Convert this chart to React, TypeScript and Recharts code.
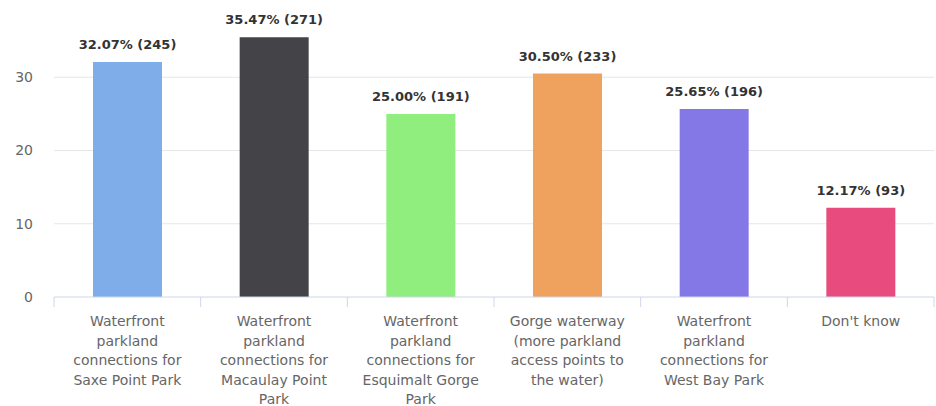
import React from "react";
import { BarChart, Bar, XAxis, YAxis, CartesianGrid, Cell, LabelList } from "recharts";

const categories = [
  "Waterfront\nparkland\nconnections for\nSaxe Point Park",
  "Waterfront\nparkland\nconnections for\nMacaulay Point\nPark",
  "Waterfront\nparkland\nconnections for\nEsquimalt Gorge\nPark",
  "Gorge waterway\n(more parkland\naccess points to\nthe water)",
  "Waterfront\nparkland\nconnections for\nWest Bay Park",
  "Don't know",
];
const percents = [32.07, 35.47, 25.0, 30.5, 25.65, 12.17];
const counts = [245, 271, 191, 233, 196, 93];
const colors = ["#7fadea", "#434348", "#90ee7e", "#efa15e", "#8478e6", "#e84c7e"];
const yTicks = [0, 10, 20, 30];
const yDomain = [0, 40];

const W = 936;
const H = 406;
const LEFT = 54;
const RIGHT = 2;
const FONT = "'DejaVu Sans', Verdana, sans-serif";

const data = categories.map((c, i) => ({
  name: c,
  value: percents[i],
  count: counts[i],
}));

const band = (W - LEFT - RIGHT) / categories.length;

// only the tick gridlines, no border line at the top of the plot
const gridRows = (props: any) => {
  const rows = yTicks.filter((t) => t > 0);
  const scale = props?.yAxis?.scale;
  if (typeof scale === "function") return rows.map((t) => scale(t));
  if (scale && typeof scale.map === "function") return rows.map((t) => scale.map(t));
  const { top, height } = props.offset;
  return rows.map((t) => top + height * (1 - (t - yDomain[0]) / (yDomain[1] - yDomain[0])));
};

function CategoryTick(props: any) {
  const { x, y, payload, index } = props;
  const lines = String(payload.value).split("\n");
  return (
    <g>
      <line x1={x - band / 2} x2={x - band / 2} y1={y} y2={y + 10} stroke="#ccd6eb" />
      {index === categories.length - 1 && (
        <line x1={x + band / 2} x2={x + band / 2} y1={y} y2={y + 10} stroke="#ccd6eb" />
      )}
      <text x={x} y={y + 29} textAnchor="middle" fill="#666" fontSize={14} fontFamily={FONT}>
        {lines.map((l, i) => (
          <tspan key={i} x={x} dy={i === 0 ? 0 : 19.5}>
            {l}
          </tspan>
        ))}
      </text>
    </g>
  );
}

function BarLabel(props: any) {
  const { x, y, width, index } = props;
  return (
    <text
      x={x + width / 2}
      y={y - 13}
      textAnchor="middle"
      fill="#333"
      fontSize={13}
      fontWeight="bold"
      fontFamily={FONT}
    >
      {`${percents[index].toFixed(2)}% (${counts[index]})`}
    </text>
  );
}

export default function App() {
  return (
    <div style={{ position: "absolute", left: 0, top: 0, width: W, height: H, background: "#fff" }}>
      <BarChart
        width={W}
        height={H}
        data={data}
        margin={{ top: 4, right: RIGHT, bottom: 0, left: 0 }}
        barSize={69}
      >
        <CartesianGrid vertical={false} stroke="#e6e6e6" horizontalCoordinatesGenerator={gridRows} />
        <XAxis
          dataKey="name"
          interval={0}
          height={109}
          tickLine={false}
          tickSize={0}
          tickMargin={0}
          axisLine={{ stroke: "#ccd6eb" }}
          tick={<CategoryTick />}
        />
        <YAxis
          width={LEFT}
          domain={yDomain}
          ticks={yTicks}
          axisLine={false}
          tickLine={false}
          tickSize={0}
          tickMargin={21}
          tick={{ fill: "#666", fontSize: 14, fontFamily: FONT }}
        />
        <Bar dataKey="value" isAnimationActive={false}>
          {data.map((d, i) => (
            <Cell key={i} fill={colors[i]} />
          ))}
          <LabelList dataKey="value" content={<BarLabel />} />
        </Bar>
      </BarChart>
    </div>
  );
}
